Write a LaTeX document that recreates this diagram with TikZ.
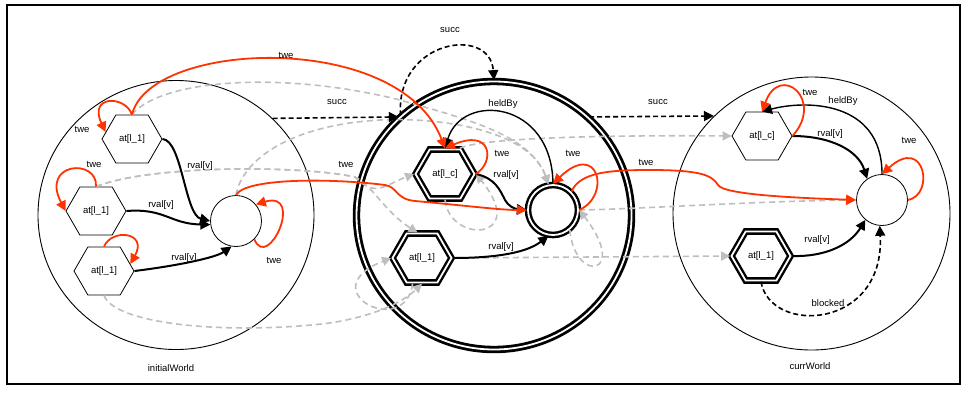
\documentclass[tikz,border=0pt]{standalone}
\usepackage{fontspec}
\setmainfont{Liberation Sans}
\usetikzlibrary{shapes.geometric,shapes.symbols,arrows.meta}
\definecolor{tweRed}{RGB}{255,51,0}
\definecolor{mapGray}{RGB}{190,190,190}

\begin{document}
\begin{tikzpicture}[x=1pt,y=-1pt,
  font=\fontsize{9.5}{11}\selectfont,
  world/.style={ellipse,draw,line width=0.9pt},
  dworld/.style={ellipse,draw,line width=2.8pt,double=white,double distance=1.8pt},
  hexn/.style={signal,signal to=west and east,signal pointer angle=120,draw,line width=0.8pt,
    fill=white,minimum width=60pt,minimum height=48pt,inner sep=0pt},
  dhex/.style={hexn,line width=2.4pt,double=white,double distance=1.8pt,
    minimum width=59pt,minimum height=49pt},
  valnode/.style={circle,draw,line width=0.8pt,fill=white,minimum size=51pt,inner sep=0pt},
  dvalnode/.style={valnode,line width=2.4pt,double=white,double distance=1.8pt,minimum size=50pt},
  arrowed/.style={-{Triangle[length=10pt,width=10pt]}},
  relline/.style={arrowed,line width=2pt},
  heldline/.style={arrowed,line width=1.4pt},
  twe/.style={arrowed,color=tweRed,line width=1.8pt},
  mapline/.style={-{Triangle[length=9pt,width=9pt]},color=mapGray,line width=1.6pt,dash pattern=on 6pt off 4pt},
  succline/.style={arrowed,line width=1.6pt,dash pattern=on 5pt off 3pt},
  lbl/.style={inner sep=0pt},
]
\useasboundingbox (0,0) rectangle (965,392);
\draw[line width=1.5pt] (7,5) rectangle (960,384);

% the three worlds
\node[world,minimum width=276pt,minimum height=269pt] (W1) at (176,215) {};
\node[dworld,minimum width=275pt,minimum height=268pt] (W2) at (494,215.5) {};
\node[world,minimum width=277pt,minimum height=273pt] (W3) at (811.5,213.5) {};
\node[lbl] (tInit) at (171,368) {initialWorld};
\node[lbl] (tCurr) at (810,366) {currWorld};

% initialWorld
\node[hexn] (a1) at (132,139) {at[l\_1]};
\node[hexn] (a2) at (96,211) {at[l\_1]};
\node[hexn] (a3) at (104,271) {at[l\_1]};
\node[valnode] (v1) at (236,221) {};

% middle world
\node[dhex] (mc) at (445,174) {at[l\_c]};
\node[dhex] (m1) at (422,258) {at[l\_1]};
\node[dvalnode] (v2) at (553,210) {};

% currWorld
\node[hexn] (rc) at (762,136) {at[l\_c]};
\node[dhex] (r1) at (761,256) {at[l\_1]};
\node[valnode] (v3) at (882,200) {};

% grey correspondences
\draw[mapline] (a1.north) .. controls (160,80) and (280,70) .. (400,100) .. controls (470,120) and (530,135) .. (v2.100);
\draw[mapline] (v1.north) .. controls (242,160) and (290,125) .. (380,120) .. controls (440,117) and (530,130) .. (v2.100);
\draw[mapline] (a2.north) .. controls (150,165) and (300,165) .. (355,177) .. controls (372,185) and (385,212) .. (m1.100);
\draw[mapline] (a2.north) .. controls (150,165) and (300,165) .. (355,177) .. controls (375,198) and (385,185) .. (mc.west);
\draw[mapline] (a3.south) .. controls (115,325) and (230,335) .. (330,323) .. controls (380,315) and (405,300) .. (m1.south);
\draw[mapline] (mc.south) .. controls (450,245) and (530,240) .. (mc.east);
\draw[mapline] (v2.-50) .. controls (575,285) and (630,275) .. (v2.east);
\draw[mapline] (m1.-110) .. controls (405,340) and (310,290) .. (m1.west);
\draw[mapline] (mc.60) .. controls (480,138) and (600,135) .. (rc.west);
\draw[mapline] (m1.east) -- (r1.west);
\draw[mapline] (v2.east) .. controls (640,209) and (760,201) .. (v3.west);

% black relations
\draw[relline] (a1.east) .. controls (182,140) and (185,215) .. (v1.west);
\draw[relline] (a2.east) .. controls (165,208) and (170,224) .. (v1.188);
\draw[relline] (a3.east) .. controls (175,266) and (215,258) .. (v1.-100);
\draw[heldline] (v2.north) .. controls (552,100) and (462,92) .. (mc.north);
\draw[relline] (mc.east) .. controls (495,178) and (500,190) .. (505,200) .. controls (508,206) and (515,209) .. (v2.west);
\draw[relline] (m1.east) .. controls (490,258) and (525,254) .. (v2.-100);
\draw[heldline] (v3.north) .. controls (882,100) and (805,100) .. (rc.north);
\draw[relline] (rc.east) .. controls (830,136) and (858,150) .. (v3.125);
\draw[relline] (r1.east) .. controls (825,257) and (850,245) .. (v3.-130);
\draw[succline] (r1.south) .. controls (770,335) and (885,330) .. (v3.-95);
\draw[succline] (W1.45) -- (W2.134);
\draw[succline] (W2.133) .. controls (395,40) and (490,25) .. (W2.90);
\draw[succline] (W2.46) -- (W3.135);

% red twe edges
\draw[twe] (a1.north) .. controls (125,95) and (88,95) .. (a1.165);
\draw[twe] (a2.north) .. controls (98,158) and (40,162) .. (a2.west);
\draw[twe] (a3.north) .. controls (112,228) and (148,232) .. (a3.15);
\draw[twe] (v1.-45) .. controls (268,272) and (305,190) .. (v1.40);
\draw[twe] (a1.north) .. controls (150,40) and (400,30) .. (mc.north);
\draw[twe] (v1.north) .. controls (245,178) and (330,178) .. (385,185) .. controls (398,187) and (395,199) .. (415,201) .. controls (460,205) and (500,210) .. (v2.west);
\draw[twe] (mc.east) .. controls (495,162) and (492,128) .. (mc.north);
\draw[twe] (v2.east) .. controls (612,195) and (598,140) .. (v2.north);
\draw[twe] (v2.45) .. controls (580,172) and (610,170) .. (650,170) .. controls (700,170) and (712,175) .. (718,185) .. controls (724,195) and (800,198) .. (v3.west);
\draw[twe] (rc.east) .. controls (825,100) and (780,62) .. (rc.north);
\draw[twe] (v3.east) .. controls (935,195) and (925,135) .. (v3.north);

% edge labels
\node[lbl] (l1) at (82,129) {twe};
\node[lbl] (l2) at (94,164) {twe};
\node[lbl] (l3) at (274,260) {twe};
\node[lbl] (l4) at (200,166) {rval[v]};
\node[lbl] (l5) at (161,205) {rval[v]};
\node[lbl] (l6) at (184,258) {rval[v]};
\node[lbl] (l7) at (286,55) {twe};
\node[lbl] (l8) at (337,102) {succ};
\node[lbl] (l9) at (450,30) {succ};
\node[lbl] (l10) at (503,104) {heldBy};
\node[lbl] (l11) at (502,153) {twe};
\node[lbl] (l12) at (506,175) {rval[v]};
\node[lbl] (l13) at (573,153) {twe};
\node[lbl] (l14) at (346,164) {twe};
\node[lbl] (l15) at (501,247) {rval[v]};
\node[lbl] (l16) at (658,102) {succ};
\node[lbl] (l17) at (646,162) {twe};
\node[lbl] (l18) at (810,92) {twe};
\node[lbl] (l19) at (843,101) {heldBy};
\node[lbl] (l20) at (830,134) {rval[v]};
\node[lbl] (l21) at (909,140) {twe};
\node[lbl] (l22) at (817,240) {rval[v]};
\node[lbl] (l23) at (828,303) {blocked};
\end{tikzpicture}
\end{document}
